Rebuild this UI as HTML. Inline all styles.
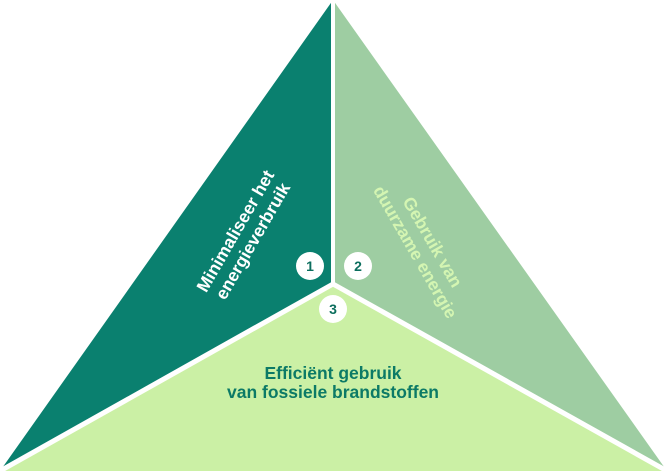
<!DOCTYPE html>
<html><head><meta charset="utf-8"><style>
html,body{margin:0;padding:0;background:#fff;width:667px;height:471px;overflow:hidden}
svg{display:block}
text{font-family:"Liberation Sans",sans-serif;font-weight:bold}
</style></head><body>
<svg width="667" height="471" viewBox="0 0 667 471">
<polygon points="333,0 333,284 0,471" fill="#0a806f"/>
<polygon points="333,0 667,471 333,284" fill="#9ecda2"/>
<polygon points="0,471 333,284 667,471" fill="#cbf0a5"/>
<polyline points="333,0 333,284" stroke="#fff" stroke-width="4" fill="none"/>
<line x1="333" y1="284" x2="0" y2="471" stroke="#fff" stroke-width="5"/>
<line x1="333" y1="284" x2="667" y2="471" stroke="#fff" stroke-width="5"/>
<g transform="translate(244,236) rotate(-60)" fill="#fff" font-size="17.5" text-anchor="middle">
<text x="0" y="-4">Minimaliseer het</text>
<text x="0" y="16">energieverbruik</text>
</g>
<g transform="translate(424,247) rotate(60)" fill="#d4f5b2" font-size="17.5" text-anchor="middle">
<text x="0" y="-4">Gebruik van</text>
<text x="0" y="16">duurzame energie</text>
</g>
<g fill="#0c7a66" font-size="17.5" text-anchor="middle">
<text x="333" y="379">Efficiënt gebruik</text>
<text x="333" y="398">van fossiele brandstoffen</text>
</g>
<g font-size="14" text-anchor="middle" fill="#0c6e5e">
<circle cx="310" cy="266" r="14" fill="#fff"/><text x="310" y="271">1</text>
<circle cx="358" cy="266" r="14" fill="#fff"/><text x="358" y="271">2</text>
<circle cx="333" cy="309" r="14" fill="#fff"/><text x="333" y="314">3</text>
</g>
</svg>
</body></html>
